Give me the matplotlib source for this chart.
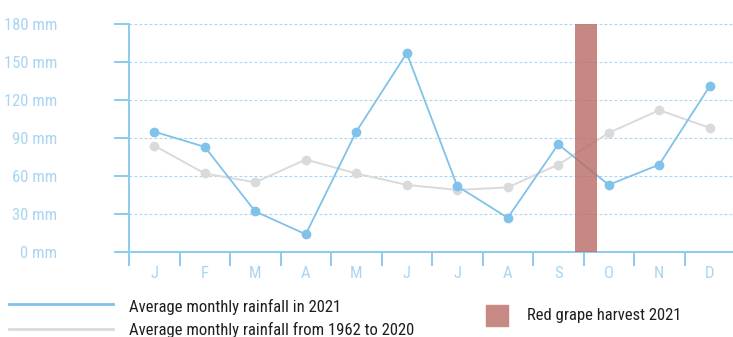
import matplotlib
matplotlib.use("Agg")
import matplotlib.pyplot as plt
from matplotlib.lines import Line2D
from matplotlib.patches import Rectangle

plt.rcParams["font.family"] = ["Roboto Condensed", "DejaVu Sans"]

months = ["J", "F", "M", "A", "M", "J", "J", "A", "S", "O", "N", "D"]
rain_2021 = [95, 83, 32, 14, 95, 157, 52, 27, 85, 53, 69, 131]
rain_avg = [84, 62, 55, 73, 62, 53, 49, 51, 69, 94, 112, 98]
yticks = [0, 30, 60, 90, 120, 150, 180]
ytick_labels = ["0 mm", "30 mm", "60 mm", "90 mm", "120 mm", "150 mm", "180 mm"]
harvest_pos = 8.55
harvest_width = 0.44
harvest_height = 180

BLUE = "#80c2ea"
GRAY = "#dadada"
AXC = "#8ccaee"
LBL = "#a9d5f2"
RED = "#c78983"
TXT = "#1e1e1e"

W, H = 733, 337
fig = plt.figure(figsize=(W / 100, H / 100), dpi=100)
ax = fig.add_axes([129 / W, 85 / H, (735 - 129) / W, 228 / H])

x = list(range(len(months)))
ax.set_xlim(-0.5, 11.5)
ax.set_ylim(0, 180)

ax.plot(x, rain_avg, color=GRAY, lw=1.4, marker="o", ms=6, mec=GRAY, mfc=GRAY, zorder=3)
ax.plot(x, rain_2021, color=BLUE, lw=1.3, marker="o", ms=6, mec=BLUE, mfc=BLUE, zorder=4)
ax.bar([harvest_pos], [harvest_height], width=harvest_width, color="#b96b64", alpha=0.8,
       zorder=5, linewidth=0)

for v in yticks[1:]:
    ax.axhline(v, color=LBL, lw=0.8, ls=(0, (2.5, 2)), zorder=1)

for s in ["top", "right"]:
    ax.spines[s].set_visible(False)
for s in ["left", "bottom"]:
    ax.spines[s].set_color(AXC)
    ax.spines[s].set_linewidth(1.4)

ax.set_yticks(yticks)
ax.set_yticklabels(ytick_labels)
ax.tick_params(axis="y", length=10.8, width=1.4, color=AXC, labelcolor=LBL,
               labelsize=12, pad=41)

ax.set_xticks(x)
ax.set_xticklabels(months)
ax.tick_params(axis="x", which="major", length=0, labelcolor=LBL, labelsize=12, pad=10)
ax.set_xticks([i - 0.5 for i in range(13)], minor=True)
ax.tick_params(axis="x", which="minor", length=10, width=1.4, color=AXC)

# legend
fig.add_artist(Line2D([9 / W, 113 / W], [1 - 304 / H] * 2, color=BLUE, lw=2.0))
fig.add_artist(Line2D([9 / W, 113 / W], [1 - 329 / H] * 2, color=GRAY, lw=2.0))
fig.text(129 / W, 1 - 312 / H, "Average monthly rainfall in 2021", color=TXT,
         fontsize=12, va="baseline", ha="left")
fig.text(129 / W, 1 - 335 / H, "Average monthly rainfall from 1962 to 2020", color=TXT,
         fontsize=12, va="baseline", ha="left")
fig.add_artist(Rectangle((486 / W, 1 - 326 / H), 22 / W, 21 / H, color=RED,
                         transform=fig.transFigure))
fig.text(527 / W, 1 - 320 / H, "Red grape harvest 2021", color=TXT,
         fontsize=12, va="baseline", ha="left")

fig.savefig("out.png", dpi=100)
